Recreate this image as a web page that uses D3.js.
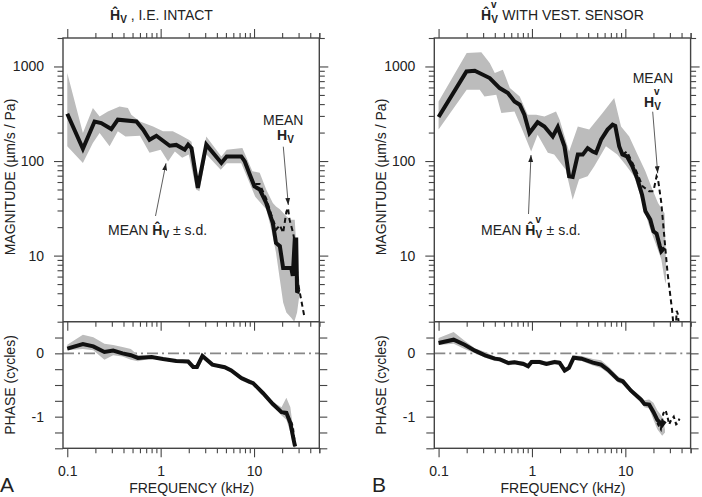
<!DOCTYPE html>
<html><head><meta charset="utf-8">
<script src="https://cdn.jsdelivr.net/npm/d3@7"></script>
<style>
html,body{margin:0;padding:0;background:#fff;}
svg{display:block;font-family:"Liberation Sans",Arial,Helvetica,sans-serif;}
</style></head>
<body><svg id="c" width="702" height="497"></svg>
<script>
// ---------- DATA ----------
// Panel A: magnitude (µm/s/Pa) vs frequency (kHz)
const magFreqA = [0.1,0.147,0.196,0.231,0.296,0.348,0.55,0.65,0.76,0.9,1.25,1.47,1.81,1.97,2.14,2.5,3.08,4.47,5.1,7.3,7.96,9.0,10.1,11.5,13.5,15.9,17.2,18.9,20.5,25,26,27.3,28.3,28.9,30.8];
const magMeanA = [316,135,262,252,218,274,262,215,168,185,145,148,132,149,137,52,149,95.5,112,112,99,72,54,50,36,22,13.6,12.6,7.4,7.4,6.1,14.8,14.8,4.2,4.1];
const magDashFreqA = [7.96,9.0,10.1,11.5,13.5,15.5,17.4,18.9,20.5,22.2,23.1,24,26.2,27.3,29.5,32,34.5];
const magDashA = [99,72,57,57,40,26,19,21,17.4,29,32,24,17.4,14,5.2,3.4,2.3];
const bandHiFreqA = [0.1,0.147,0.188,0.222,0.272,0.363,0.446,0.485,0.6,0.83,1.06,1.35,1.6,2.0,2.14,2.45,2.6,3.08,4.47,5.1,7.5,8.5,9.6,11.5,13.5,15.9,17.2,18.9,22.2,25,27.3,28.9,30.8];
const bandHiA = [852,198,364,296,335,378,364,309,262,232,206,206,190,168,160,69,69,182,112,132,137,103,78,75,50,36,33,31,26,24,24,9,5];
const bandLoFreqA = [0.1,0.147,0.188,0.222,0.284,0.348,0.42,0.6,0.76,1.0,1.2,1.42,1.7,2.0,2.4,2.6,3.08,4.4,5.1,7.3,8.8,10.3,13.5,15.3,17.2,18.9,20.5,22.2,25,27,28.9,30.8];
const bandLoA = [143,95.5,155,198,143,206,182,185,122,132,99,126,108,117,50,48,118,81,95,95,61,42,31,19,10.7,5.6,3.2,2.5,2.2,2.0,2.5,4];
// Panel A: phase (cycles)
const phFreqA = [0.1,0.147,0.19,0.25,0.31,0.39,0.48,0.57,0.8,1.06,1.47,1.97,2.23,2.45,2.8,3.58,4.85,5.7,7.3,9.0,9.77,12.5,15.9,19.7,22.2,24.5,26.5,27.5];
const phMeanA = [0.074,0.148,0.11,0.022,0.043,0,-0.03,-0.073,-0.057,-0.09,-0.12,-0.13,-0.215,-0.215,-0.04,-0.178,-0.22,-0.27,-0.39,-0.45,-0.47,-0.63,-0.8,-0.93,-0.94,-1.1,-1.36,-1.47];
const phHiA = [0.137,0.295,0.253,0.15,0.13,0.1,0.07,-0.03,-0.035,-0.07,-0.1,-0.11,-0.19,-0.19,-0.02,-0.155,-0.2,-0.24,-0.35,-0.42,-0.44,-0.6,-0.77,-0.85,-0.7,-0.85,-1.25,-1.4];
const phLoA = [0.05,0.07,0.05,-0.1,-0.03,-0.05,-0.1,-0.126,-0.08,-0.11,-0.145,-0.16,-0.24,-0.25,-0.07,-0.2,-0.245,-0.3,-0.43,-0.49,-0.5,-0.66,-0.83,-0.98,-1.05,-1.25,-1.45,-1.52];
const phDashFreqA = [19.7,22.2,24.5,26,27,28];
const phDashA = [-0.93,-0.97,-1.05,-1.15,-1.35,-1.5];

// Panel B
const magFreqB = [0.1,0.199,0.244,0.353,0.451,0.553,0.65,0.74,0.83,0.94,1.15,1.36,1.67,1.89,2.23,2.5,2.73,3.1,3.5,3.95,4.47,4.85,5.5,6.45,7.3,7.8,8.6,9.3,10.4,11.9,13.5,15.1,16.4,18.5,20,21.6,23.4,24.3,26.3];
const magMeanB = [292,887,901,754,591,525,427,394,309,198,257,232,182,229,143,69,68,117,117,137,126,122,168,215,242,235,143,117,112,88,64,44,29.4,24,18.1,17.1,12.6,11.1,12.1];
const magDashFreqB = [9.3,10.4,12.9,15.3,18,20,21.6,22.4,24.3,26.3,28.3,31.6,33,34.5,35.5,36.5,38];
const magDashB = [117,126,81,54,48,48,69,64,36,14.8,6.6,2.7,1.7,1.6,2.6,2.4,1.6];
const bandHiFreqB = [0.1,0.2,0.287,0.353,0.4,0.488,0.58,0.74,0.9,1.11,1.36,1.81,1.98,2.5,3.1,4.1,5.7,7.6,9.0,11.0,13.5,16.4,19.5,22.4,26.3,27.3];
const bandHiB = [427,1384,1417,1086,852,923,591,482,309,309,296,335,274,126,232,215,322,464,232,182,117,78,50,36,28,8];
const bandLoFreqB = [0.1,0.2,0.276,0.31,0.415,0.47,0.65,0.8,0.98,1.15,1.48,1.73,2.3,2.73,3.2,3.95,4.65,6.2,8.2,10,12.4,15.3,18,21,24.3,26.3,27.3];
const bandLoB = [215,567,567,482,503,322,335,206,126,190,122,117,81,39,64,69,88,143,117,92,69,36,20.4,13.6,9.1,5.6,5];
const phFreqB = [0.1,0.145,0.19,0.245,0.315,0.4,0.455,0.56,0.65,0.81,0.91,0.99,1.21,1.43,1.75,1.98,2.24,2.49,2.8,3.4,4.5,5.5,6.5,8.35,9.4,11.5,14.7,16,18,20,22,24.8,26.6];
const phMeanB = [0.164,0.216,0.137,0.043,-0.032,-0.084,-0.095,-0.152,-0.142,-0.168,-0.205,-0.136,-0.136,-0.168,-0.136,-0.15,-0.27,-0.23,-0.068,-0.084,-0.147,-0.178,-0.258,-0.415,-0.442,-0.59,-0.73,-0.8,-0.81,-0.926,-1.05,-1.13,-1.07];
const phHiB = [0.243,0.338,0.2,0.08,0.02,-0.05,-0.06,-0.12,-0.11,-0.13,-0.17,-0.1,-0.1,-0.13,-0.1,-0.11,-0.23,-0.19,-0.03,-0.04,-0.09,-0.11,-0.2,-0.36,-0.4,-0.55,-0.68,-0.74,-0.73,-0.78,-0.9,-1.0,-1.2];
const phLoB = [0.13,0.15,0.07,0.0,-0.07,-0.12,-0.13,-0.19,-0.17,-0.2,-0.24,-0.17,-0.17,-0.2,-0.17,-0.19,-0.31,-0.27,-0.1,-0.12,-0.19,-0.23,-0.31,-0.46,-0.49,-0.63,-0.78,-0.85,-0.87,-1.05,-1.2,-1.3,-1.25];
const phDashFreqB = [22,24,25.5,27,28,29.5,31,33,35,36.5,38];
const phDashB = [-1.1,-1.2,-0.95,-0.9,-0.98,-1.12,-1.05,-1.0,-1.12,-1.1,-1.03];

// Tick labels
const freqTickLabels = [0.1, 1, 10];
const magTickLabels = [10, 100, 1000];
const phaseTickLabels = [0, -1];

// ---------- DRAWING ----------
const svg = d3.select('#c');
const AX = '#444', BAND = '#bcbcbc', TXT = '#222';
const FS = 14;
const yTop = 38, yMid = 321.7, yBot = 448.3;

const freqMinor = [];
[0.1,1,10].forEach(d => { for (let k=1;k<10;k++){ const v=d*k; if (v<=50.001) freqMinor.push(+v.toPrecision(3)); } });
freqMinor.push(50);
const magMinor = [];
[1,10,100,1000].forEach(d => { for (let k=1;k<10;k++){ const v=d*k; if (v>=2 && v<=2000) magMinor.push(v); } });
const phMinor = d3.range(-1.5, 0.501, 0.25);

const panels = [
  {id:'A', x0:63, x1:319.3, magF:magFreqA, magM:magMeanA, dF:magDashFreqA, dM:magDashA,
   hiF:bandHiFreqA, hi:bandHiA, loF:bandLoFreqA, lo:bandLoA,
   pF:phFreqA, pM:phMeanA, pH:phHiA, pL:phLoA, pdF:phDashFreqA, pd:phDashA},
  {id:'B', x0:434.3, x1:690.6, magF:magFreqB, magM:magMeanB, dF:magDashFreqB, dM:magDashB,
   hiF:bandHiFreqB, hi:bandHiB, loF:bandLoFreqB, lo:bandLoB,
   pF:phFreqB, pM:phMeanB, pH:phHiB, pL:phLoB, pdF:phDashFreqB, pd:phDashB}
];

const defs = svg.append('defs');
defs.append('marker').attr('id','arr').attr('viewBox','0 0 10 10').attr('refX',10).attr('refY',5)
  .attr('markerWidth',7).attr('markerHeight',7).attr('markerUnits','userSpaceOnUse').attr('orient','auto')
  .append('path').attr('d','M0,1.5 L10,5 L0,8.5 Z').attr('fill','#222');

function styleAxis(g, majors, majorLen, minorLen, dir) {
  g.select('.domain').remove();
  g.selectAll('.tick line').attr('stroke', AX).attr('stroke-width',1.1)
    .each(function(d){
      const isMajor = majors.some(m => Math.abs(m - d) < 1e-9);
      const L = isMajor ? majorLen : minorLen;
      const s = d3.select(this);
      if (dir==='up') s.attr('y2', -L);
      if (dir==='down') s.attr('y2', L);
      if (dir==='left') s.attr('x2', -L);
      if (dir==='right') s.attr('x2', L);
    });
  g.selectAll('.tick text').attr('fill', TXT).attr('font-size', FS).attr('font-family','"Liberation Sans",Arial,sans-serif');
}

panels.forEach(P => {
  const x = d3.scaleLog().domain([0.09, 50]).range([P.x0, P.x1]);
  const yM = d3.scaleLog().domain([2, 2000]).range([yMid, yTop]);
  const yP = d3.scaleLinear().domain([-1.5, 0.5]).range([yBot, yMid]);

  const cm = 'clipM'+P.id, cp = 'clipP'+P.id;
  defs.append('clipPath').attr('id',cm).append('rect').attr('x',P.x0).attr('y',yTop).attr('width',P.x1-P.x0).attr('height',yMid-yTop);
  defs.append('clipPath').attr('id',cp).append('rect').attr('x',P.x0).attr('y',yMid).attr('width',P.x1-P.x0).attr('height',yBot-yMid);

  // magnitude band
  const gM = svg.append('g').attr('clip-path','url(#'+cm+')');
  const poly = P.hiF.map((f,i)=>[f,P.hi[i]]).concat(P.loF.map((f,i)=>[f,P.lo[i]]).reverse());
  gM.append('path').attr('d', d3.line().x(d=>x(d[0])).y(d=>yM(d[1]))(poly) + 'Z').attr('fill', BAND);
  gM.append('path').attr('d', d3.line().x(d=>x(d[0])).y(d=>yM(d[1]))(P.dF.map((f,i)=>[f,P.dM[i]])))
    .attr('fill','none').attr('stroke','#111').attr('stroke-width',2).attr('stroke-dasharray','5,3.5');
  gM.append('path').attr('d', d3.line().x(d=>x(d[0])).y(d=>yM(d[1]))(P.magF.map((f,i)=>[f,P.magM[i]])))
    .attr('fill','none').attr('stroke','#111').attr('stroke-width',4).attr('stroke-linejoin','miter').attr('stroke-miterlimit',3);

  // phase
  const gP = svg.append('g').attr('clip-path','url(#'+cp+')');
  gP.append('line').attr('x1',P.x0).attr('x2',P.x1).attr('y1',yP(0)).attr('y2',yP(0))
    .attr('stroke','#888').attr('stroke-width',1.6).attr('stroke-dasharray','11,4,2,4');
  const pPoly = P.pF.map((f,i)=>[f,P.pH[i]]).concat(P.pF.map((f,i)=>[f,P.pL[i]]).reverse());
  gP.append('path').attr('d', d3.line().x(d=>x(d[0])).y(d=>yP(d[1]))(pPoly)+'Z').attr('fill',BAND);
  gP.append('path').attr('d', d3.line().x(d=>x(d[0])).y(d=>yP(d[1]))(P.pdF.map((f,i)=>[f,P.pd[i]])))
    .attr('fill','none').attr('stroke','#111').attr('stroke-width',2).attr('stroke-dasharray','4,3');
  gP.append('path').attr('d', d3.line().x(d=>x(d[0])).y(d=>yP(d[1]))(P.pF.map((f,i)=>[f,P.pM[i]])))
    .attr('fill','none').attr('stroke','#111').attr('stroke-width',4).attr('stroke-linejoin','miter').attr('stroke-miterlimit',3);

  // frame
  const fr = svg.append('g').attr('stroke',AX).attr('stroke-width',1.4).attr('fill','none');
  fr.append('rect').attr('x',P.x0).attr('y',yTop).attr('width',P.x1-P.x0).attr('height',yBot-yTop);
  fr.append('line').attr('x1',P.x0).attr('x2',P.x1).attr('y1',yMid).attr('y2',yMid);

  // x axes
  const gt = svg.append('g').attr('transform',`translate(0,${yTop})`)
    .call(d3.axisTop(x).tickValues(freqMinor).tickFormat(''));
  styleAxis(gt, freqTickLabels, 9, 5, 'up');
  const gm = svg.append('g').attr('transform',`translate(0,${yMid})`)
    .call(d3.axisBottom(x).tickValues(freqMinor).tickFormat(''));
  styleAxis(gm, freqTickLabels, 9, 5, 'down');
  const gb = svg.append('g').attr('transform',`translate(0,${yBot})`)
    .call(d3.axisBottom(x).tickValues(freqMinor).tickPadding(12)
      .tickFormat(d => freqTickLabels.some(v=>Math.abs(v-d)<1e-9) ? String(d) : ''));
  styleAxis(gb, freqTickLabels, 9, 5, 'down');

  // y axes magnitude
  const yl = svg.append('g').attr('transform',`translate(${P.x0},0)`)
    .call(d3.axisLeft(yM).tickValues(magMinor).tickPadding(13)
      .tickFormat(d => magTickLabels.includes(d) ? String(d) : ''));
  styleAxis(yl, magTickLabels, 9, 5.5, 'left');
  const yr = svg.append('g').attr('transform',`translate(${P.x1},0)`)
    .call(d3.axisRight(yM).tickValues(magMinor).tickFormat(''));
  styleAxis(yr, magTickLabels, 9, 5.5, 'right');

  // y axes phase
  const pl = svg.append('g').attr('transform',`translate(${P.x0},0)`)
    .call(d3.axisLeft(yP).tickValues(phMinor.filter(v=>v<0.49)).tickPadding(13)
      .tickFormat(d => phaseTickLabels.some(v=>Math.abs(v-d)<1e-9) ? (d===0?'0':String(d)) : ''));
  styleAxis(pl, phaseTickLabels, 8, 8, 'left');
  const pr = svg.append('g').attr('transform',`translate(${P.x1},0)`)
    .call(d3.axisRight(yP).tickValues(phMinor.filter(v=>v<0.49)).tickFormat(''));
  styleAxis(pr, phaseTickLabels, 8, 8, 'right');
});

// ---------- TEXT ----------
const T = svg.append('g').attr('fill',TXT).attr('font-size',FS);
function txt(x,y,s,opt={}) {
  const t = T.append('text').attr('x',x).attr('y',y).text(s);
  if (opt.anchor) t.attr('text-anchor',opt.anchor);
  if (opt.size) t.attr('font-size',opt.size);
  if (opt.rot) t.attr('transform',`rotate(-90,${x},${y})`);
  return t;
}
// one text element: before + H(hat?) with subscript V (and optional superscript v) + after
function hvLabel(x, y, before, hat, sup, after) {
  const t = T.append('text').attr('x',x).attr('y',y);
  if (before) t.append('tspan').text(before);
  t.append('tspan').attr('font-weight','bold').text(hat ? 'Ĥ' : 'H');
  t.append('tspan').attr('font-weight','bold').attr('font-size',10).attr('dy',3).text('V');
  if (sup) {
    t.append('tspan').attr('font-weight','bold').attr('font-size',10).attr('dx',-6.7).attr('dy',-15).text('v');
    if (after) t.append('tspan').attr('dx',1.7).attr('dy',12).text(after);
  } else if (after) {
    t.append('tspan').attr('dy',-3).text(after);
  }
  return t;
}

// titles
hvLabel(110,20,'',true,false,' , I.E. INTACT');
hvLabel(481,20,'',true,true,' WITH VEST. SENSOR');

// axis titles
[0,371].forEach(o => {
  txt(15+o,177,'MAGNITUDE (µm/s / Pa)',{anchor:'middle',rot:true});
  txt(15+o,385,'PHASE (cycles)',{anchor:'middle',rot:true});
});
txt(191.7,492.5,'FREQUENCY (kHz)',{anchor:'middle'});
txt(563,492.5,'FREQUENCY (kHz)',{anchor:'middle'});
txt(0,492,'A',{size:21});
txt(372,492,'B',{size:21});

// annotations
hvLabel(108,235,'MEAN ',true,false,' ± s.d.');
hvLabel(481,235,'MEAN ',true,true,' ± s.d.');
txt(263,125,'MEAN'); hvLabel(277,140,'',false,false,'');
txt(632.7,83,'MEAN'); hvLabel(644,107,'',false,true,'');

const A = svg.append('g').attr('stroke','#333').attr('stroke-width',0.8);
[[155.5,216,166,163.3],[283.3,146.7,288.3,205],[528.5,214,531,155],[652.7,111.7,657.7,173.3]].forEach(a => {
  A.append('line').attr('x1',a[0]).attr('y1',a[1]).attr('x2',a[2]).attr('y2',a[3]).attr('marker-end','url(#arr)');
});
</script></body></html>
